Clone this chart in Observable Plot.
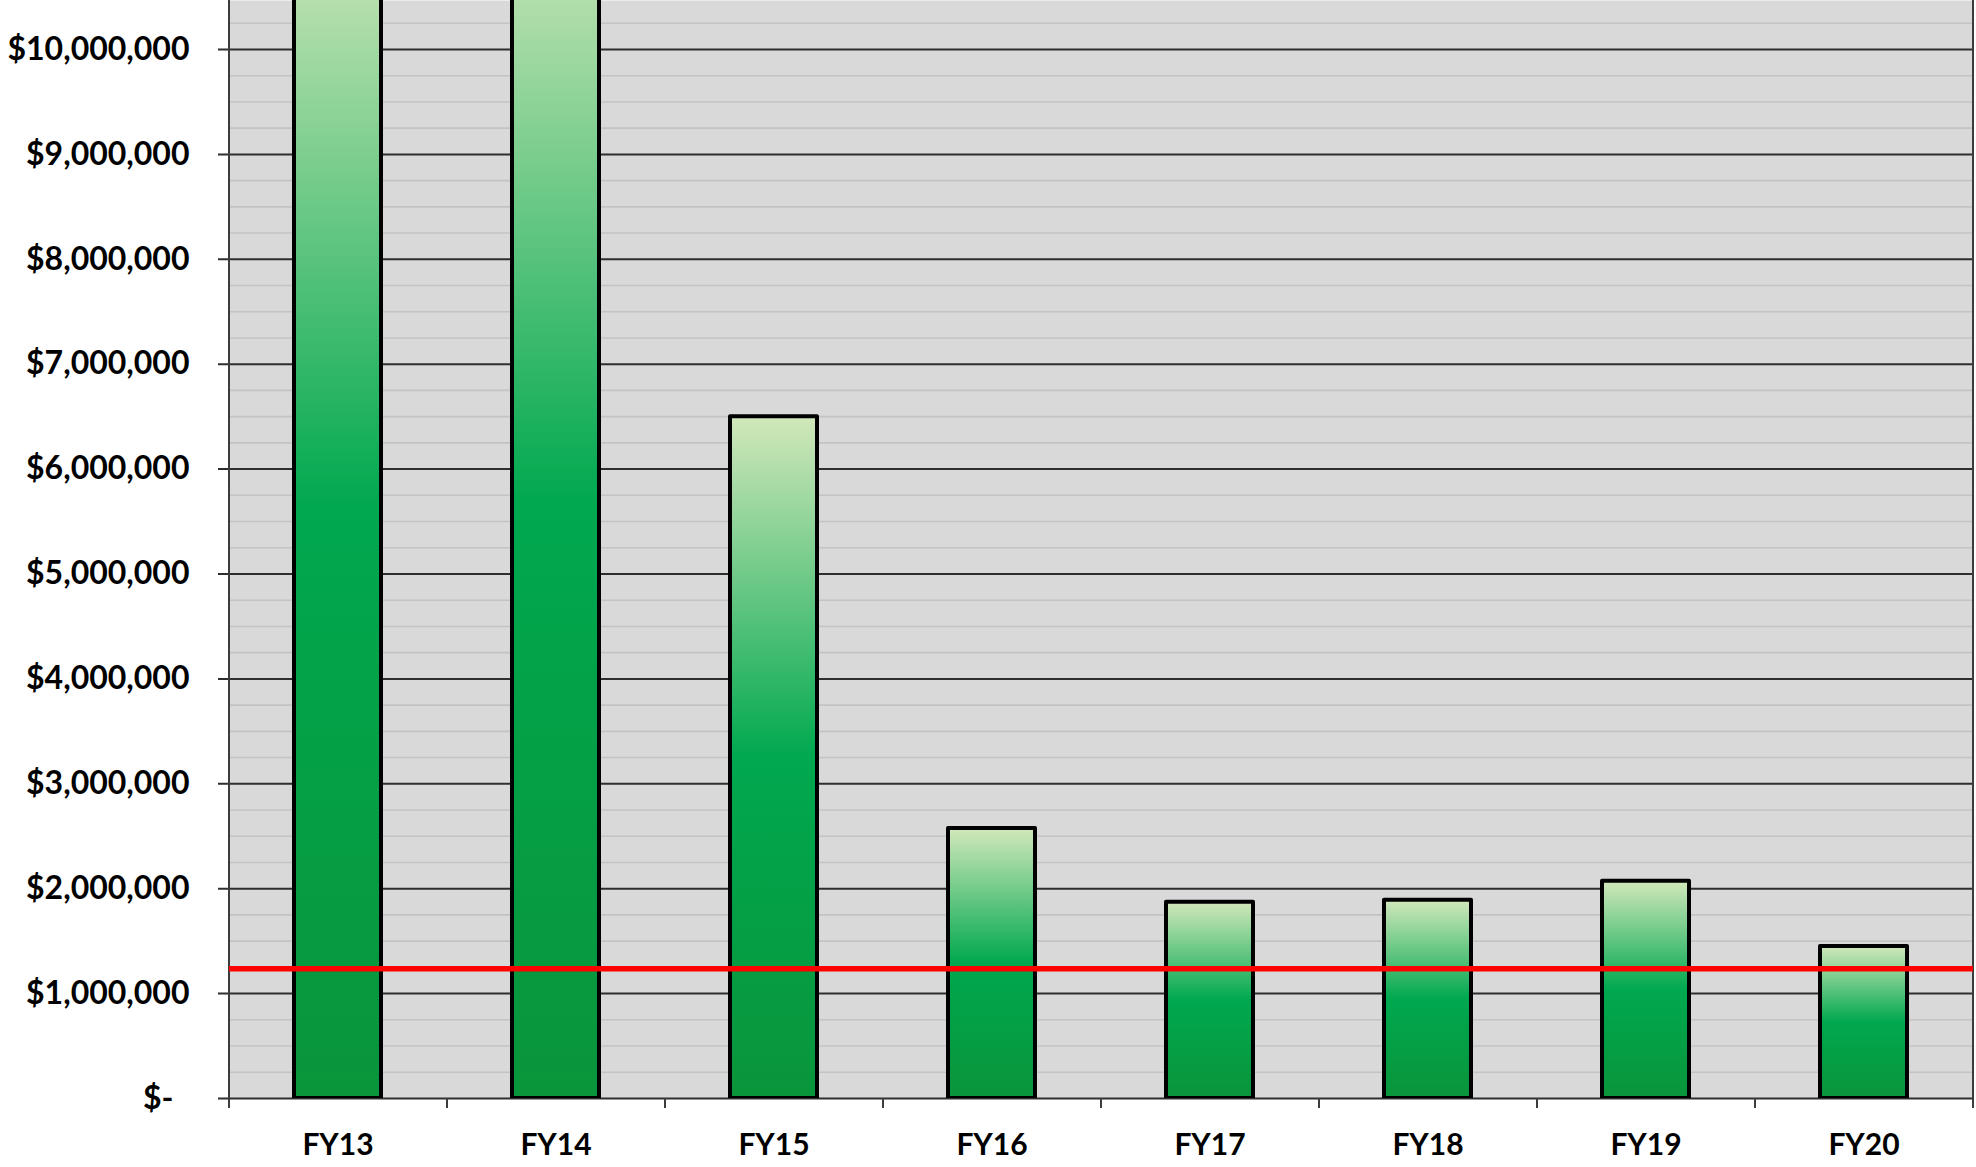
<!DOCTYPE html>
<html>
<head>
<meta charset="utf-8">
<script src="https://cdn.jsdelivr.net/npm/d3@7"></script>
<script src="https://cdn.jsdelivr.net/npm/@observablehq/plot@0.6"></script>
<style>
  html, body { margin: 0; padding: 0; background: #ffffff; }
  #chart svg { display: block; }
</style>
</head>
<body>
<div id="chart"></div>
<script>
// Annual amounts by fiscal year
const fiscalYears = ["FY13", "FY14", "FY15", "FY16", "FY17", "FY18", "FY19", "FY20"];
const amounts = [11250000, 11350000, 6500000, 2575000, 1870000, 1890000, 2070000, 1450000];
// Target level drawn as the red line
const targetAmount = 1236000;
// Axis ticks: labelled every $1M, light minor lines every $250K
const majorTicks = [0, 1000000, 2000000, 3000000, 4000000, 5000000, 6000000, 7000000, 8000000, 9000000, 10000000];
const minorTicks = d3.range(250000, 10500000, 250000).filter(v => v % 1000000 !== 0);

const rows = fiscalYears.map((fy, i) => ({fy, amount: amounts[i]}));

const W = 1976, H = 1167;
const mL = 229, mR = 3, mT = 0, mB = 69;
const step = (W - mL - mR) / fiscalYears.length;

const money = v => v === 0 ? "$-\u2002" : "$" + d3.format(",")(v);

// Vertical gradient used by every bar (relative to each bar's own box)
const barGradient = () => {
  const defs = d3.create("svg:defs");
  const g = defs.append("linearGradient")
    .attr("id", "barFill")
    .attr("x1", 0).attr("y1", 0).attr("x2", 0).attr("y2", 1);
  g.append("stop").attr("offset", "0%").attr("stop-color", "#d2e8bb");
  g.append("stop").attr("offset", "50%").attr("stop-color", "#00a84f");
  g.append("stop").attr("offset", "100%").attr("stop-color", "#0a953a");
  return defs.node();
};

const axisColor = "#3c3c3c";

const chart = Plot.plot({
  width: W,
  height: H,
  marginLeft: mL,
  marginRight: mR,
  marginTop: mT,
  marginBottom: mB,
  style: {fontFamily: "Lato, 'Open Sans', sans-serif", color: "#000", background: "#fff"},
  x: {domain: fiscalYears, paddingInner: 0.6, paddingOuter: 0.3},
  y: {domain: [0, 10467000], label: null},
  marks: [
    barGradient,
    Plot.frame({fill: "#d9d9d9", stroke: "none"}),
    Plot.ruleY(minorTicks, {stroke: "#c3c3c3", strokeWidth: 1.6}),
    Plot.ruleY(majorTicks, {stroke: "#2e2e2e", strokeWidth: 2, insetLeft: -11}),
    // category boundary ticks below the baseline
    Plot.ruleX(fiscalYears, {x: d => d, dx: -step / 2, y1: 0, y2: 0, insetBottom: -10, stroke: axisColor, strokeWidth: 2}),
    // left and right edges of the plot area
    Plot.ruleX([fiscalYears[0]], {x: d => d, dx: -step / 2, insetBottom: -10, stroke: axisColor, strokeWidth: 2}),
    Plot.ruleX([fiscalYears[fiscalYears.length - 1]], {x: d => d, dx: step / 2, insetBottom: -10, stroke: axisColor, strokeWidth: 2}),
    Plot.barY(rows, {
      x: "fy",
      y: "amount",
      fill: "url(#barFill)",
      stroke: "#000",
      strokeWidth: 4,
      strokeLinejoin: "round",
      clip: true
    }),
    Plot.ruleY([targetAmount], {stroke: "#ff0000", strokeWidth: 5.5}),
    Plot.axisY(majorTicks, {
      tickSize: 0,
      tickPadding: 40,
      tickFormat: money,
      fontSize: 32,
      fontWeight: "bold",
      fill: "#000",
      label: null
    }),
    Plot.axisX({
      tickSize: 0,
      tickPadding: 35,
      fontSize: 30,
      fontWeight: "bold",
      fill: "#000",
      label: null
    })
  ]
});

document.getElementById("chart").appendChild(chart);
</script>
</body>
</html>
